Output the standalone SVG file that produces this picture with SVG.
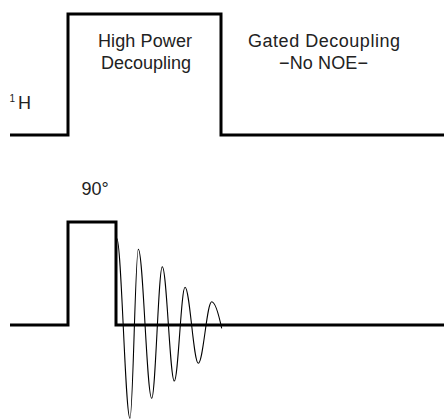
<svg xmlns="http://www.w3.org/2000/svg" width="444" height="419" viewBox="0 0 444 419">
<style>
.pulse{fill:none;stroke:#000;stroke-width:3;stroke-linejoin:miter}
.fid{fill:none;stroke:#000;stroke-width:1.1}
.t{font-family:"Liberation Sans","DejaVu Sans",sans-serif;font-size:18px;fill:#222}
.c{text-anchor:middle}
</style>
<rect width="444" height="419" fill="#fff"/>
<g id="connectors">
<path id="h-channel" class="pulse" d="M10,135 H68 V14 H221 V135 H444"/>
<path id="c-channel" class="pulse" d="M10,325 H68 V222 H116 V325 H444"/>
<path id="fid" class="fid" d="M116.7,238.3 C121.5,238.3 125.2,418.3 130,418.3 C133,418.3 135.3,249.3 138.3,249.3 C143.2,249.3 146.8,398.3 151.7,398.3 C155.5,398.3 158.5,266.7 162.3,266.7 C166.7,266.7 170,381 174.3,381 C178.2,381 181.1,287.3 185,287.3 C189.8,287.3 193.5,363.3 198.3,363.3 C203.2,363.3 206.8,301.7 211.7,301.7 C215.5,301.7 219.5,318 221.7,328.3"/>
</g>
<g id="label-high-power">
<text class="t c" x="145" y="47" textLength="94" lengthAdjust="spacing">High Power</text>
<text class="t c" x="146" y="69">Decoupling</text>
</g>
<g id="label-gated">
<text class="t c" x="324" y="47" textLength="152" lengthAdjust="spacing">Gated Decoupling</text>
<text class="t c" x="323.5" y="69" textLength="89" lengthAdjust="spacing">−No NOE−</text>
</g>
<g id="label-1H">
<text class="t" x="9.5" y="102" style="font-size:10px">1</text>
<text class="t" x="18" y="108.5">H</text>
</g>
<g id="label-90">
<text class="t" x="81.5" y="194.5">90°</text>
</g>
</svg>
